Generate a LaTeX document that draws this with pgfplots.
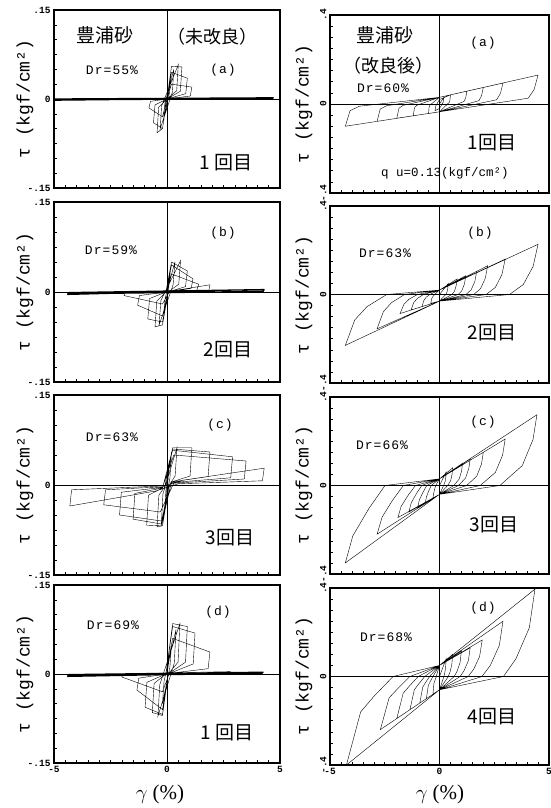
\documentclass[border=0pt]{standalone}
\usepackage{pgfplots}
\pgfplotsset{compat=1.18}
\usepackage{fontspec}
\setmainfont{Liberation Serif}
\setmonofont{Liberation Mono}
\newfontfamily\jp{Noto Sans CJK JP}
\newfontfamily\mono[LetterSpace=8]{Liberation Mono}
\newcommand{\jpb}{\jp\fontsize{19}{19}\selectfont}
\newcommand{\dr}{\mono\fontsize{13}{13}\selectfont}
\newcommand{\lab}{\fontspec{Liberation Mono}\fontsize{18}{18}\selectfont}
\pgfplotsset{
  base/.style={scale only axis, xmin=-5, xmax=5, clip=true,
    axis line style={line width=1.2pt},
    tick align=inside, tick pos=left,
    xtick={-5,0,5}, minor x tick num=9,
    major tick length=4pt, minor tick length=2.5pt,
    every tick/.style={black, line width=0.6pt},
    major grid style={black, line width=0.6pt},
    extra x ticks={0}, extra y ticks={0},
    extra x tick labels={}, extra y tick labels={},
    extra tick style={grid=major, major tick length=0pt},
    xticklabels={},
    tick label style={font=\fontsize{9.5}{9.5}\selectfont\ttfamily\bfseries},
    scaled ticks=false,
    cycle list={{black, no markers, line width=0.6pt, line join=round}},
  },
  leftp/.style={base, width=226pt, ymin=-0.15, ymax=0.15, ytick={-0.15,0,0.15},
    yticklabels={-.15,0,.15}, minor y tick num=5},
  rightp/.style={base, width=219pt, ymin=-0.4, ymax=0.4, ytick={-0.4,0,0.4},
    yticklabels={-.4,0,.4}, minor y tick num=7, yticklabel style={rotate=90}},
  bottomx/.style={xticklabels={-5,0,5}},
  flat/.style={black, no markers, line width=1.3pt, line join=round},
}
\begin{document}
\begin{tikzpicture}[x=1pt,y=1pt]
\useasboundingbox (0,0) rectangle (551,808);

% ---------------- LEFT (a)
\begin{axis}[leftp, height=178pt, at={(54pt,620pt)}, anchor=south west]
\addplot coordinates {(0,0) (0.15,0.03) (0.1,0.008) (-0.15,-0.035) (-0.1,-0.009) (0.3,0.05) (0.24,0.012) (-0.3,-0.05) (-0.24,-0.012) (0.5,0.058) (0.43,0.014) (0.0,0) (-0.2,-0.05) (-0.44,-0.057) (-0.37,-0.014) (0,0) (0.2,0.055) (0.66,0.054) (0.59,0.013) (0,0) (-0.2,-0.05) (-0.6,-0.04) (-0.53,-0.01) (0,0) (0.2,0.045) (0.9,0.035) (0.83,0.009) (0,0) (-0.2,-0.03) (-0.8,-0.015) (-0.73,-0.004) (0,0) (0.2,0.025) (1.1,0.02) (1.03,0.005) (0,0)};
\addplot[flat] coordinates {(0,0) (-5,-0.002) (-4.95,0) (4.7,0.002) (4.65,0) (-4.9,-0.001)};
\end{axis}

% ---------------- LEFT (b)
\begin{axis}[leftp, height=180pt, at={(54pt,426pt)}, anchor=south west]
\addplot coordinates {(0,0) (0.15,0.035) (0.08,0.008) (-0.15,-0.04) (-0.08,-0.01) (0.35,0.05) (0.27,0.012) (-0.35,-0.055) (-0.27,-0.014) (0.6,0.052) (0.52,0.013) (0.05,0) (-0.2,-0.055) (-0.53,-0.058) (-0.45,-0.015) (-0.05,0) (0.2,0.05) (0.9,0.035) (0.82,0.009) (0.05,0) (-0.2,-0.05) (-0.85,-0.045) (-0.77,-0.011) (-0.05,0) (0.2,0.045) (1.15,0.022) (1.07,0.006) (0.05,0) (-0.2,-0.04) (-1.3,-0.022) (-1.22,-0.006) (-0.05,0) (0.2,0.03) (1.4,0.013) (1.32,0.003) (0.1,0) (-0.2,-0.02) (-1.9,-0.006) (-1.85,-0.001) (0.1,0.001) (1.9,0.012) (1.85,0.002)};
\addplot[flat] coordinates {(1.85,0.002) (-4.4,-0.004) (-4.35,-0.001) (4.3,0.004) (4.25,0.001) (-4.4,-0.003)};
\end{axis}

% ---------------- LEFT (c)
\begin{axis}[leftp, height=180pt, at={(54pt,233pt)}, anchor=south west]
\addplot coordinates {(0,0) (0.1,0.04) (0.05,0.01) (-0.1,-0.045) (-0.05,-0.01) (0.2,0.055) (0.13,0.012) (-0.25,-0.065) (-0.18,-0.015) (0.44,0.062) (0.36,0.015) (0.1,0) (-0.2,-0.068) (-0.44,-0.07) (-0.36,-0.017) (-0.1,-0.003) (0.25,0.062) (1.1,0.062) (1.02,0.015) (0.2,0.005) (-0.25,-0.068) (-0.9,-0.067) (-0.82,-0.017) (-0.2,-0.005) (0.25,0.06) (1.9,0.055) (1.82,0.014) (0.2,0.005) (-0.25,-0.065) (-1.5,-0.057) (-1.42,-0.014) (-0.2,-0.005) (0.25,0.058) (2.9,0.047) (2.82,0.012) (0.2,0.004) (-0.25,-0.06) (-2.1,-0.05) (-2.02,-0.012) (-0.2,-0.004) (0.3,0.05) (3.5,0.04) (3.42,0.01) (0.3,0.003) (-0.3,-0.045) (-2.8,-0.033) (-2.72,-0.008) (-0.2,-0.003) (0.7,0.008) (4.3,0.028) (4.22,0.007) (0.5,0.002) (-0.5,-0.01) (-4.3,-0.035) (-4.22,-0.008) (-0.5,-0.002) (0,0)};
\end{axis}

% ---------------- LEFT (d)
\begin{axis}[leftp, bottomx, height=178pt, at={(54pt,45pt)}, anchor=south west]
\addplot coordinates {(0,0) (0.2,0.05) (0.13,0.012) (-0.2,-0.05) (-0.13,-0.012) (0.4,0.075) (0.32,0.018) (-0.4,-0.071) (-0.32,-0.018) (0.57,0.085) (0.49,0.02) (0.05,0) (-0.2,-0.07) (-0.65,-0.065) (-0.57,-0.016) (-0.05,0) (0.25,0.085) (0.9,0.08) (0.82,0.02) (0.05,0) (-0.2,-0.068) (-0.97,-0.056) (-0.89,-0.014) (-0.05,0) (0.25,0.08) (1.24,0.069) (1.16,0.017) (0.05,0) (-0.2,-0.06) (-1.33,-0.027) (-1.25,-0.007) (-0.05,0) (0.25,0.06) (1.9,0.037) (1.82,0.009) (0.1,0.001) (-0.2,-0.03) (-2.0,-0.005) (-1.95,-0.001) (0.1,0.002) (2.8,0.004) (2.75,0.001)};
\addplot[flat] coordinates {(2.75,0.001) (-4.4,-0.004) (-4.35,-0.001) (4.25,0.003) (4.2,0.001) (-4.4,-0.003)};
\end{axis}

% ---------------- RIGHT (a)
\begin{axis}[rightp, height=178pt, at={(330pt,615pt)}, anchor=south west]
\addplot coordinates {(0,0) (0.2,0.03) (0.18,0.01) (0,-0.02) (-0.2,-0.03) (-0.18,-0.01) (0,0.02)
(0.5,0.041) (0.48,0.02) (0.45,0.008) (0,-0.035) (-0.5,-0.043) (-0.475,-0.013) (-0.425,-0.004) (0,0.03)
(1.25,0.058) (1.2,0.029) (1.125,0.012) (0,-0.035) (-1.2,-0.053) (-1.14,-0.016) (-1.02,-0.005) (0,0.03)
(2.0,0.074) (1.92,0.037) (1.8,0.015) (0,-0.035) (-1.95,-0.064) (-1.85,-0.019) (-1.66,-0.006) (0,0.03)
(2.9,0.094) (2.78,0.047) (2.61,0.019) (0,-0.035) (-2.85,-0.078) (-2.71,-0.023) (-2.42,-0.008) (0,0.03)
(4.5,0.13) (4.32,0.065) (4.05,0.026) (0,-0.035) (-4.3,-0.1) (-4.085,-0.03) (-3.655,-0.01) (0,0.03)};
\end{axis}

% ---------------- RIGHT (b)
\begin{axis}[rightp, height=177pt, at={(330pt,425pt)}, anchor=south west]
\addplot coordinates {(0,0)
(0.4,0.05) (0.38,0.028) (0.34,0.01) (0.284,0) (0,-0.03)
(-0.4,-0.04) (-0.36,-0.02) (-0.308,-0.01) (-0.224,0) (0,0.02)
(0.8,0.07) (0.76,0.039) (0.68,0.014) (0.568,0) (0,-0.03)
(-0.8,-0.055) (-0.72,-0.028) (-0.616,-0.013) (-0.448,0) (0,0.02)
(1.2,0.085) (1.14,0.048) (1.02,0.017) (0.852,0) (0,-0.03)
(-1.3,-0.07) (-1.17,-0.035) (-1.0,-0.017) (-0.728,0) (0,0.02)
(1.7,0.105) (1.615,0.059) (1.445,0.021) (1.207,0) (0,-0.03)
(-1.8,-0.086) (-1.62,-0.043) (-1.386,-0.021) (-1.008,0) (0,0.02)
(2.2,0.13) (2.09,0.073) (1.87,0.026) (1.562,0) (0,-0.03)
(-2.85,-0.155) (-2.565,-0.078) (-2.195,-0.037) (-1.596,0) (0,0.02)
(3.0,0.16) (2.85,0.09) (2.55,0.032) (2.13,0) (0,-0.03)
(-4.3,-0.23) (-3.87,-0.115) (-3.31,-0.055) (-2.408,0) (0,0.02)
(4.5,0.227) (4.275,0.127) (3.825,0.045) (3.195,0) (0,-0.03)};
\end{axis}

% ---------------- RIGHT (c)
\begin{axis}[rightp, height=177pt, at={(330pt,234pt)}, anchor=south west]
\addplot coordinates {(0,0)
(0.3,0.06) (0.288,0.039) (0.255,0.017) (0.186,0) (0,-0.04)
(-0.3,-0.06) (-0.276,-0.039) (-0.225,-0.018) (-0.174,0) (0,0.03)
(0.6,0.08) (0.576,0.052) (0.51,0.022) (0.372,0) (0,-0.04)
(-0.65,-0.08) (-0.6,-0.052) (-0.49,-0.024) (-0.377,0) (0,0.03)
(1.05,0.10) (1.01,0.065) (0.89,0.028) (0.65,0) (0,-0.04)
(-1.0,-0.1) (-0.92,-0.065) (-0.75,-0.03) (-0.58,0) (0,0.03)
(1.4,0.12) (1.34,0.078) (1.19,0.034) (0.87,0) (0,-0.04)
(-1.4,-0.12) (-1.29,-0.078) (-1.05,-0.036) (-0.81,0) (0,0.03)
(2.0,0.15) (1.92,0.098) (1.7,0.042) (1.24,0) (0,-0.04)
(-1.9,-0.145) (-1.75,-0.094) (-1.43,-0.044) (-1.1,0) (0,0.03)
(3.0,0.21) (2.88,0.137) (2.55,0.059) (1.86,0) (0,-0.04)
(-2.85,-0.22) (-2.62,-0.143) (-2.14,-0.066) (-1.65,0) (0,0.03)
(4.45,0.32) (4.27,0.208) (3.78,0.09) (2.76,0) (0,-0.04)
(-4.3,-0.35) (-3.96,-0.228) (-3.23,-0.105) (-2.49,0) (0,0.03)};
\end{axis}

% ---------------- RIGHT (d)
\begin{axis}[rightp, bottomx, height=177pt, at={(330pt,43pt)}, anchor=south west]
\addplot coordinates {(0,0)
(0.3,0.08) (0.282,0.044) (0.24,0.016) (0.2,0) (0,-0.06)
(-0.3,-0.08) (-0.255,-0.032) (-0.21,-0.018) (-0.15,0) (0,0.05)
(0.6,0.1) (0.564,0.055) (0.48,0.02) (0.4,0) (0,-0.06)
(-0.6,-0.1) (-0.51,-0.04) (-0.42,-0.022) (-0.3,0) (0,0.05)
(1.0,0.115) (0.94,0.063) (0.8,0.023) (0.67,0) (0,-0.06)
(-0.9,-0.12) (-0.765,-0.048) (-0.63,-0.026) (-0.45,0) (0,0.05)
(1.4,0.13) (1.32,0.072) (1.12,0.026) (0.94,0) (0,-0.06)
(-1.35,-0.15) (-1.15,-0.06) (-0.945,-0.033) (-0.675,0) (0,0.05)
(1.95,0.165) (1.83,0.09) (1.56,0.033) (1.31,0) (0,-0.06)
(-1.95,-0.19) (-1.66,-0.076) (-1.365,-0.042) (-0.975,0) (0,0.05)
(2.9,0.25) (2.73,0.14) (2.32,0.05) (1.94,0) (0,-0.06)
(-2.7,-0.24) (-2.3,-0.096) (-1.89,-0.053) (-1.35,0) (0,0.05)
(4.36,0.395) (4.1,0.22) (3.49,0.08) (2.92,0) (0,-0.06)
(-4.25,-0.4) (-3.6,-0.16) (-2.98,-0.088) (-2.12,0) (0,0.05)};
\end{axis}

% ---------------- texts, left column
\node[font=\jpb] at (105,773) {豊浦砂};
\node[font=\jp\fontsize{18}{18}\selectfont] at (212,771) {（未改良）};
\node[font=\dr] at (112,738) {Dr=55\%};
\node[font=\dr] at (223,738) {(a)};
\node[font=\jpb] at (226,645) {1 回目};
\node[font=\dr] at (111,558) {Dr=59\%};
\node[font=\dr] at (223,575) {(b)};
\node[font=\jpb] at (228,458) {2回目};
\node[font=\dr] at (112,371) {Dr=63\%};
\node[font=\dr] at (220,383) {(c)};
\node[font=\jpb] at (230,270) {3回目};
\node[font=\dr] at (113,183) {Dr=69\%};
\node[font=\dr] at (218,196) {(d)};
\node[font=\jpb] at (227,75) {1 回目};
% ---------------- texts, right column
\node[font=\jpb] at (385,773) {豊浦砂};
\node[font=\jp\fontsize{18}{18}\selectfont] at (388,742) {（改良後）};
\node[font=\dr] at (383,720) {Dr=60\%};
\node[font=\dr] at (483,765) {(a)};
\node[font=\jpb] at (492,665) {1回目};
\node[font=\fontspec{Liberation Mono}\fontsize{12.5}{13}\selectfont] at (445,635) {q u=0.13(kgf/cm²)};
\node[font=\dr] at (385,555) {Dr=63\%};
\node[font=\dr] at (480,575) {(b)};
\node[font=\jpb] at (492,475) {2回目};
\node[font=\dr] at (382,363) {Dr=66\%};
\node[font=\dr] at (483,386) {(c)};
\node[font=\jpb] at (494,283) {3回目};
\node[font=\dr] at (386,171) {Dr=68\%};
\node[font=\dr] at (483,200) {(d)};
\node[font=\jpb] at (492,91) {4回目};
% ---------------- axis titles
\foreach \yy in {709,516,323,134} {\node[font=\lab, rotate=90] at (25,\yy) {τ (kgf/cm²)};}
\foreach \yy in {704,513,323,132} {\node[font=\lab, rotate=90] at (304,\yy) {τ (kgf/cm²)};}
\node[font=\fontsize{21}{21}\selectfont] at (160,14) {$\gamma$ (\%)};
\node[font=\fontsize{21}{21}\selectfont] at (440,14) {$\gamma$ (\%)};
\end{tikzpicture}
\end{document}
